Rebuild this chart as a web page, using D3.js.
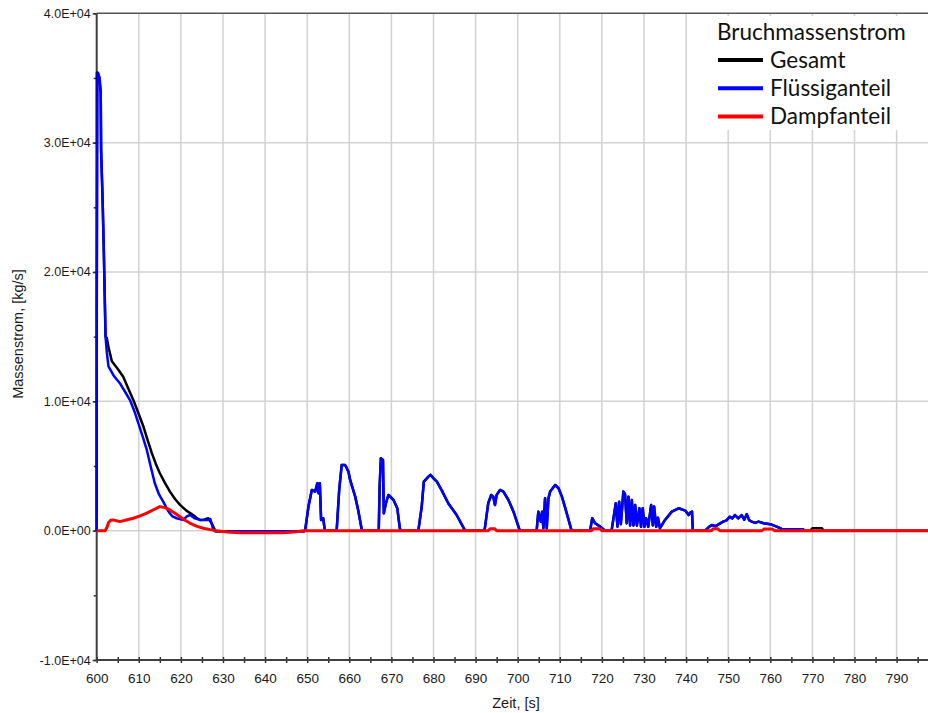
<!DOCTYPE html>
<html>
<head>
<meta charset="utf-8">
<script src="https://cdn.jsdelivr.net/npm/d3@7"></script>
<style>
body { margin: 0; background: #fff; }
svg { display: block; font-family: Arial, "Liberation Sans", sans-serif; }
.grid line { stroke: #d2d2d2; stroke-width: 1.5; }
.frame { stroke: #404040; stroke-width: 2; }
.axis path { display: none; }
.axis line { stroke: #303030; stroke-width: 1.5; }
.axis text { fill: #1a1a1a; font-family: Arial, "Liberation Sans", sans-serif; }
.legend text { font-family: Lato, "Open Sans", sans-serif; fill: #111; }
</style>
</head>
<body>
<div id="chart"></div>
<script>
///////////////////////////////////////////////////////////////////////////////
//// Data /////////////////////////////////////////////////////////////////////
///////////////////////////////////////////////////////////////////////////////
const xTicks = [600, 610, 620, 630, 640, 650, 660, 670, 680, 690, 700, 710, 720, 730, 740, 750, 760, 770, 780, 790];
const yTicks = [-10000, 0, 10000, 20000, 30000, 40000];
const seriesNames = ["Gesamt", "Flüssiganteil", "Dampfanteil"];

// [Zeit s, Massenstrom kg/s]
const gesamtAnfang = [
	[600, 0], [600.05, 35400], [600.3, 35400], [600.6, 35000], [600.95, 33900], [601.05, 29400],
	[601.4, 25600], [601.7, 21500], [602.1, 15000], [602.4, 14900], [602.8, 14200], [603.6, 13100],
	[604.8, 12600], [606.3, 11900], [607.5, 11000], [608.7, 10100], [610, 9000], [611.1, 8050],
	[612.1, 7000], [613.1, 5990], [614, 5200], [615, 4440], [616.2, 3700], [617.4, 3020],
	[618.6, 2450], [619.8, 1990], [621.3, 1550], [622.9, 1210], [623.7, 1000], [624.5, 830],
	[625.5, 850], [626.5, 960], [627.3, 570], [628.1, 50]
];

const fluessig = [
	[600, 0], [600, 16800], [600.2, 35400], [600.4, 35300], [600.7, 35000], [600.95, 33900],
	[601.05, 29400], [601.4, 25600], [601.7, 21500], [602.1, 15000], [602.4, 13800], [602.8, 12700],
	[604, 12000], [605.5, 11400], [606.8, 10700], [607.9, 10100], [609, 9200], [609.9, 8300],
	[611, 7200], [611.9, 6240], [612.8, 5000], [613.8, 3670], [614.8, 2800], [615.8, 2240],
	[617, 1500], [618, 1100], [619, 960], [620.6, 830], [621.4, 1100], [622.2, 1210], [623.3, 950],
	[624.5, 830], [626.5, 830], [627, 900], [627.7, 50], [628.2, -50], [649.3, -50],
	[649.5, 0], [650.3, 1860], [651.1, 3150], [651.9, 3020], [652.4, 3670], [652.7, 2890],
	[653.0, 3670], [653.3, 830], [653.8, 960], [654.2, 0], [657.0, 0],
	[657.6, 3150], [658.2, 5080], [659.0, 5080], [659.4, 4830], [659.8, 4560], [660.2, 3920],
	[661.4, 2630], [662.1, 1600], [662.9, 190], [663.1, 0], [666.8, 0],
	[667.0, 100], [667.2, 3400], [667.5, 5600], [668.0, 5470], [668.2, 1350], [668.7, 2120],
	[669.3, 2760], [670.5, 2370], [671.4, 1730], [672.0, 190], [672.2, 0], [676.4, 0],
	[677.2, 1860], [677.7, 3790], [678.8, 4180], [679.3, 4310], [680.0, 4050], [680.8, 3790],
	[681.9, 3150], [683.5, 2120], [685.5, 1210], [687.5, 0], [692, 0],
	[692.2, 190], [693.0, 2120], [693.7, 2760], [694.2, 2630], [694.6, 1990], [695.0, 2760],
	[695.8, 3150], [696.6, 3020], [697.8, 2370], [699.0, 1470], [700.5, 0], [704.5, 0],
	[704.9, 1470], [705.5, 700], [705.8, 1470], [706.1, 190], [706.5, 2500], [706.9, 190],
	[707.3, 2500], [707.7, 3020], [708.9, 3530], [709.7, 3280], [710.5, 2630], [711.2, 1860],
	[712.8, 0], [717.2, 0],
	[717.7, 960], [718.4, 570], [719.6, 310], [720.8, 0], [722.3, 0], [723.3, 2120], [723.7, 310],
	[724.1, 2240], [724.5, 500], [725.1, 3020], [725.5, 2800], [725.9, 570], [726.3, 2630],
	[726.7, 400], [727.1, 2370], [727.5, 400], [727.9, 1990], [728.3, 400], [728.9, 1730],
	[729.3, 300], [729.7, 1730], [730.1, 300], [730.5, 960], [731, 300], [731.7, 1990],
	[732.1, 400], [732.4, 1860], [732.9, 300], [733.3, 1000], [733.8, 190], [735.0, 830],
	[736.6, 1470], [738.2, 1730], [739.8, 1550], [740.6, 1210], [741.0, 1400], [741.4, 1470],
	[741.6, 0], [744.5, 0], [745.5, 300], [746.1, 440], [747, 350], [748.8, 700], [749.6, 800],
	[750.4, 1080], [751, 950], [751.6, 1210], [752.4, 950], [753.2, 1210], [753.8, 850],
	[754.4, 1270], [755, 800], [755.6, 700], [756.4, 600], [757.2, 700], [758.4, 570],
	[760, 500], [761.5, 310], [762.7, 130], [767.8, 100], [768.2, 0]
];

const gesamtEnde = [[769.5, 0], [770, 180], [772.3, 180], [772.6, 0], [800, 0]];

const dampf = [
	[600, 0], [602, 0], [602.5, 300], [602.8, 620], [603.3, 800], [604, 830], [604.8, 760],
	[605.5, 700], [607, 820], [608.7, 960], [610.3, 1150], [611.9, 1350], [613.5, 1620],
	[615, 1860], [616.2, 1780], [617.4, 1600], [618.6, 1350], [619.8, 1080], [621, 800],
	[622.2, 570], [623.7, 350], [625.3, 190], [627, 80], [628.5, 0], [631, -100], [634, -170],
	[644.3, -170], [647.5, -80], [649, 0], [693, 0], [693.5, 150], [694.5, 150], [695, 0],
	[717.5, 0], [718, 150], [719.5, 150], [720, 0], [746, 0], [746.5, 150], [747.5, 150],
	[748, 0], [758, 0], [758.5, 120], [760.5, 120], [761, 0], [800, 0]
];

// Gesamt after the first peak runs under the liquid part
const gesamt = gesamtAnfang.concat(fluessig.filter(d => d[0] > 628.1), gesamtEnde);

///////////////////////////////////////////////////////////////////////////////
//// Set Up ///////////////////////////////////////////////////////////////////
///////////////////////////////////////////////////////////////////////////////
const svgWidth = 928, svgHeight = 713;
const margin = {top: 13.3, left: 96.7};
const width = 842;   // 600..800 s, right part is cut off by the window
const height = 646.7;

const x = d3.scaleLinear().domain([600, 800]).range([0, width]);
const y = d3.scaleLinear().domain([-10000, 40000]).range([height, 0]);
const color = d3.scaleOrdinal().domain(seriesNames).range(["#000000", "#0000ff", "#ff0000"]);

function expFormat(v) {
	if (v === 0) return "0.0E+00";
	const e = Math.floor(Math.log10(Math.abs(v)));
	return (v / Math.pow(10, e)).toFixed(1) + "E+" + String(e).padStart(2, "0");
}

const svg = d3.select("#chart").append("svg")
	.attr("width", svgWidth)
	.attr("height", svgHeight);

const g = svg.append("g")
	.attr("transform", `translate(${margin.left}, ${margin.top})`);

///////////////////////////////////////////////////////////////////////////////
// Grid
g.append("g")
		.attr("class", "grid")
	.selectAll("line.v")
	.data(xTicks.slice(1).concat([800]))
	.enter().append("line")
		.attr("x1", d => x(d)).attr("x2", d => x(d))
		.attr("y1", 0).attr("y2", height);

g.select(".grid").selectAll("line.h")
	.data(yTicks.slice(1, -1))
	.enter().append("line")
		.attr("x1", 0).attr("x2", width)
		.attr("y1", d => y(d)).attr("y2", d => y(d));

///////////////////////////////////////////////////////////////////////////////
// Axes
// minor ticks on x, crossing the axis line
g.append("g")
		.attr("class", "axis")
		.attr("transform", `translate(0, ${height - 3})`)
		.call(d3.axisBottom(x).tickValues(d3.range(600, 801, 5)).tickSize(6).tickFormat(""));

g.append("g")
		.attr("class", "axis x")
		.attr("transform", `translate(0, ${height})`)
		.call(d3.axisBottom(x).tickValues(xTicks).tickSize(0).tickPadding(13))
		.attr("font-size", "13.5px")
		.attr("font-family", null);

g.append("g")
		.attr("class", "axis")
		.call(d3.axisLeft(y).tickValues(d3.range(-10000, 40001, 5000)).tickSize(3).tickFormat(""));

g.append("g")
		.attr("class", "axis y")
		.call(d3.axisLeft(y).tickValues(yTicks).tickSize(4).tickPadding(2).tickFormat(expFormat))
		.attr("font-size", "12.5px")
		.attr("font-family", null);

// frame lines
g.append("line").attr("class", "frame")
		.attr("x1", 0).attr("x2", width).attr("y1", 0).attr("y2", 0)
		.style("stroke-width", 1.5).style("stroke", "#555");
g.append("line").attr("class", "frame")
		.attr("x1", 0).attr("x2", width).attr("y1", height).attr("y2", height);
g.append("line").attr("class", "frame")
		.attr("x1", 0).attr("x2", 0).attr("y1", 0).attr("y2", height);

// axis titles
svg.append("text")
		.attr("x", 516)
		.attr("y", 708)
		.style("text-anchor", "middle")
		.style("font-size", "14.5px")
		.style("fill", "#1a1a1a")
		.text("Zeit, [s]");

svg.append("text")
		.attr("transform", "translate(23, 334) rotate(-90)")
		.style("text-anchor", "middle")
		.style("font-size", "14.5px")
		.style("fill", "#1a1a1a")
		.text("Massenstrom, [kg/s]");

///////////////////////////////////////////////////////////////////////////////
// Lines
const line = d3.line()
	.x(d => x(d[0]))
	.y(d => y(d[1]));

const series = [
	{name: "Gesamt", values: gesamt, w: 2.5},
	{name: "Flüssiganteil", values: fluessig, w: 2.5},
	{name: "Dampfanteil", values: dampf, w: 3}
];

g.selectAll(".series")
	.data(series)
	.enter().append("path")
		.attr("class", "series")
		.attr("d", d => line(d.values))
		.style("fill", "none")
		.style("stroke", d => color(d.name))
		.style("stroke-width", d => d.w)
		.style("stroke-linejoin", "round");

///////////////////////////////////////////////////////////////////////////////
// Legend
const legend = svg.append("g").attr("class", "legend");

legend.append("rect")
		.attr("x", 706)
		.attr("y", 16)
		.attr("width", 222)
		.attr("height", 114)
		.style("fill", "#fff");

legend.append("text")
		.attr("x", 717)
		.attr("y", 40)
		.style("font-size", "22.5px")
		.text("Bruchmassenstrom");

const item = legend.selectAll(".item")
	.data(seriesNames)
	.enter().append("g")
		.attr("class", "item")
		.attr("transform", (d, i) => `translate(0, ${60 + i * 28.3})`);

item.append("line")
		.attr("x1", 718).attr("x2", 763)
		.attr("y1", 0).attr("y2", 0)
		.style("stroke", d => color(d))
		.style("stroke-width", 4);

item.append("text")
		.attr("x", 770)
		.attr("y", 7.5)
		.style("font-size", "22.5px")
		.text(d => d);
</script>
</body>
</html>
